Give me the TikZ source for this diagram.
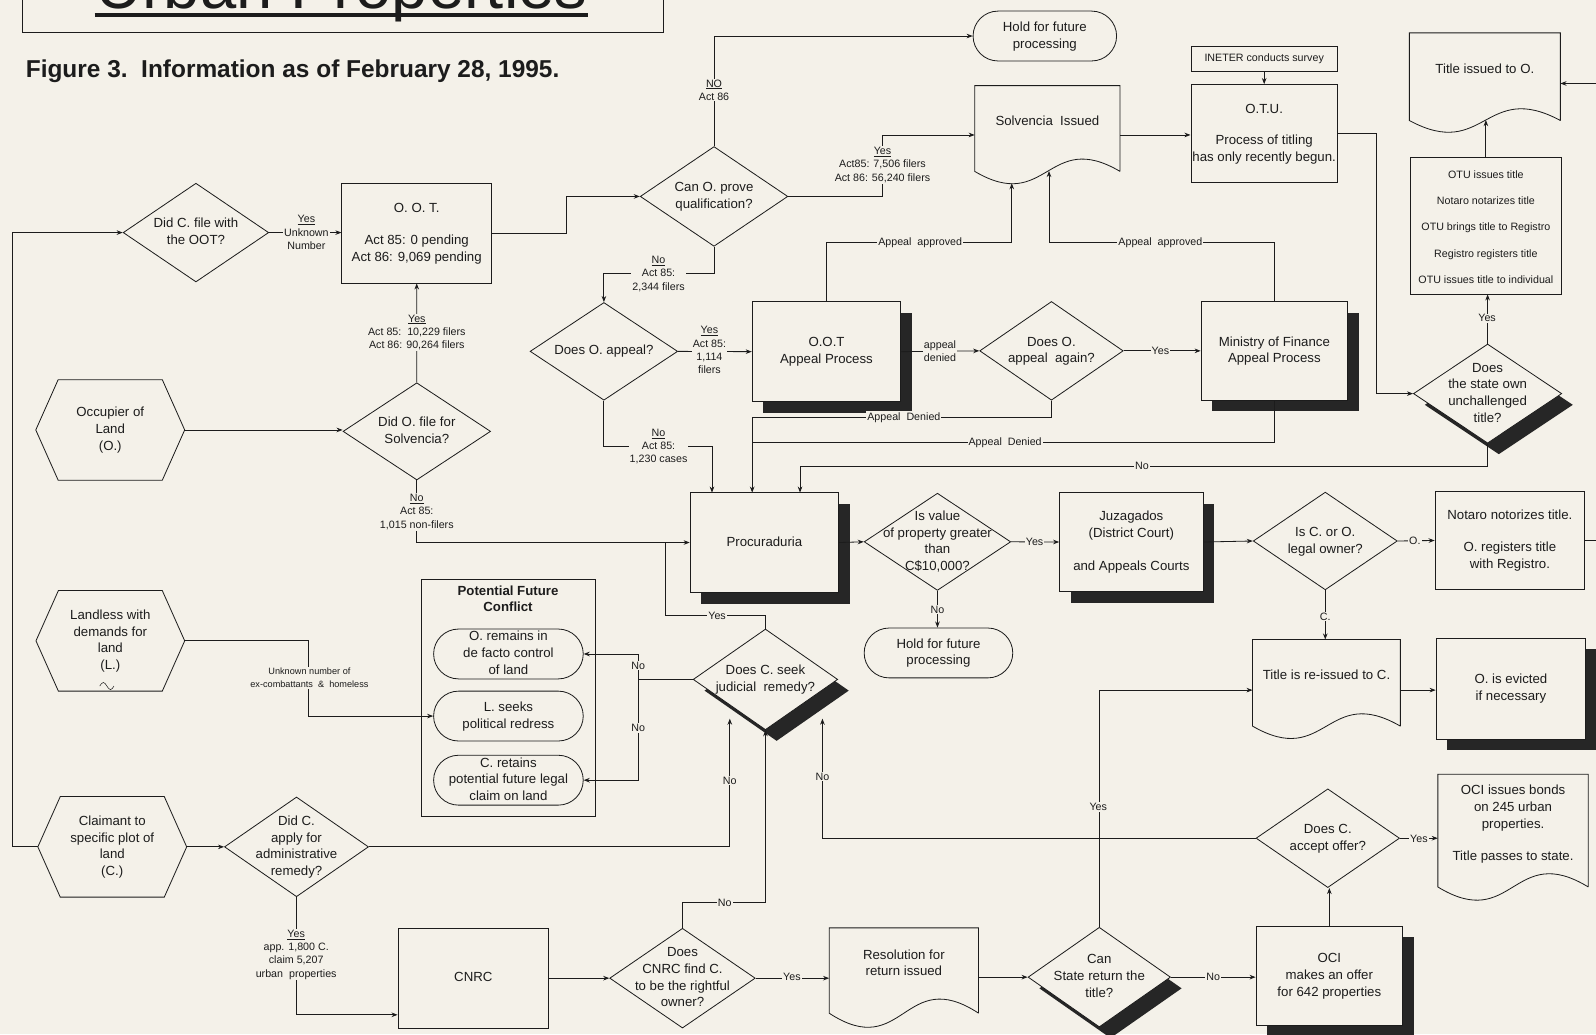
\documentclass[tikz,border=0pt]{standalone}
\usepackage{fontspec}
\setmainfont{Liberation Sans}
\usetikzlibrary{shapes.geometric}
\usetikzlibrary{shapes.misc}
\usetikzlibrary{shadows}
\usetikzlibrary{arrows.meta}

\definecolor{paper}{RGB}{244,241,233}
\definecolor{ink}{RGB}{28,28,28}

%% text of fixed size nodes: centred, takes no room
\newcommand{\ctext}[1]{\smash{\makebox[0pt]{\raisebox{-0.25em}{\begin{tabular}{@{}c@{}}#1\end{tabular}}}}}
%% outline of a hexagon round a node
\newcommand{\hexline}[1]{\draw (#1.west) -- ([xshift=22pt]#1.north west) -- ([xshift=-22pt]#1.north east) -- (#1.east) -- ([xshift=-22pt]#1.south east) -- ([xshift=22pt]#1.south west) -- cycle;}
%% outline of a document round a node, #2 = depth of the wave
\newcommand{\docline}[2]{\draw ([yshift=-13pt]#1.south east) -- (#1.north east) -- (#1.north west) -- ([yshift=-13pt]#1.south west) .. controls ([yshift=-13pt-#2]#1.south) and ([yshift=-13pt+#2]#1.south) .. ([yshift=-13pt]#1.south east);}

\tikzset{
  every node/.style={font=\fontsize{13}{16.5}\selectfont},
  sz/.style 2 args={minimum width=#1pt, minimum height=#2pt},
  flowbox/.style={draw, fill=paper, rectangle, inner sep=0pt},
  flowdia/.style={draw, fill=paper, diamond, inner sep=0pt},
  holdbox/.style={draw, fill=paper, rounded rectangle, inner sep=0pt},
  textonly/.style={inner sep=0pt},
  dropshade/.style={drop shadow={shadow xshift=11pt, shadow yshift=-11pt, fill=black!85, opacity=1}},
  lbl/.style={fill=paper, inner sep=1pt, align=center, font=\fontsize{10.5}{13}\selectfont},
  arr/.style={-{Stealth[length=6pt,width=4.5pt]}},
}

\begin{document}
\begin{tikzpicture}[x=1pt, y=-1pt, line width=0.8pt, color=ink]
  \fill[paper] (0,0) rectangle (1568,1016);
  \useasboundingbox (0,0) rectangle (1568,1016);

  %% title block, cut at the top of the page
  \node[anchor=base west, inner sep=0pt, font=\fontsize{64}{64}\selectfont] (title) at (93,8) {Urban Properties};
  \draw[line width=4.5pt] ([yshift=-6.7pt]title.base west) -- ([yshift=-6.7pt]title.base east);
  \draw (21.8,-40) rectangle (652,31.8);
  \node[anchor=base west, inner sep=0pt, font=\fontsize{24}{24}\selectfont\bfseries] (caption) at (25,76) {Figure 3.\ \ Information as of February 28, 1995.};

  %% occupier branch
  \node[flowdia, sz={143}{97}] (fileOOT) at (192.5,228.5) {\ctext{Did C. file with\\the OOT?}};
  \node[flowbox, sz={147}{98}] (oot) at (409.4,229) {\ctext{O. O. T.\\[15pt]Act 85: 0 pending\\Act 86: 9,069 pending}};
  \node[flowdia, sz={145}{98}] (prove) at (701.5,193) {\ctext{Can O. prove\\qualification?}};
  \node[holdbox, sz={141}{49}] (holdA) at (1026.5,35.4) {\ctext{Hold for future\\processing}};
  \node[textonly, sz={142}{70.5}] (solv) at (1029,119.75) {\ctext{Solvencia\ \ Issued}};
  \node[flowbox, sz={144}{24.6}, font=\fontsize{10.5}{12}\selectfont] (ineter) at (1242,58) {\ctext{INETER conducts survey}};
  \node[flowbox, sz={144}{96.5}] (otu) at (1242,131.3) {\ctext{O.T.U.\\[14.5pt]Process of titling\\has only recently begun.}};
  \node[textonly, sz={147.6}{72.3}] (issuedO) at (1458.8,68.85) {\ctext{Title issued to O.}};
  \node[flowbox, sz={147.6}{134.2}, font=\fontsize{10.5}{25.9}\selectfont] (steps) at (1459.8,221.7) {\ctext{OTU issues title\\Notaro notarizes title\\OTU brings title to Registro\\Registro registers title\\OTU issues title to individual}};
  \node[flowdia, dropshade, sz={145.7}{97.4}] (stateown) at (1461.5,386.7) {\ctext{Does\\the state own\\unchallenged\\title?}};
  \node[flowdia, sz={145}{96}] (appeal) at (593.3,345.2) {\ctext{Does O. appeal?}};
  \node[flowbox, dropshade, sz={146}{98}] (ootapp) at (812,345.5) {\ctext{O.O.T\\Appeal Process}};
  \node[flowdia, sz={141}{97}] (again) at (1033,344.7) {\ctext{Does O.\\appeal\ \ again?}};
  \node[flowbox, dropshade, sz={144}{97}] (minfin) at (1252,344.7) {\ctext{Ministry of Finance\\Appeal Process}};
  \node[textonly, sz={145.5}{98}] (occupier) at (108.3,422.4) {\ctext{Occupier of\\Land\\(O.)}};
  \node[flowdia, sz={145}{95.5}] (solvq) at (409.5,423.8) {\ctext{Did O. file for\\Solvencia?}};

  %% courts
  \node[flowbox, dropshade, sz={146}{98}] (procu) at (751,533) {\ctext{Procuraduria}};
  \node[flowdia, sz={144}{95.5}] (value) at (921,532.3) {\ctext{Is value\\of property greater\\than\\C\$10,000?}};
  \node[holdbox, sz={146}{49}] (holdB) at (922,641.5) {\ctext{Hold for future\\processing}};
  \node[flowbox, dropshade, sz={141}{97}] (juzg) at (1111.5,532.5) {\ctext{Juzagados\\(District Court)\\[16pt]and Appeals Courts}};
  \node[flowdia, sz={141.5}{96}] (owner) at (1302,531.5) {\ctext{Is C. or O.\\legal owner?}};
  \node[flowbox, sz={147}{97}] (notaro) at (1483.4,531) {\ctext{Notaro notorizes title.\\[15pt]O. registers title\\with Registro.}};
  \node[textonly, sz={144.4}{71.3}] (reissue) at (1303.2,664.35) {\ctext{Title is re-issued to C.}};
  \node[flowbox, dropshade, sz={147}{99}] (evict) at (1484.4,676.5) {\ctext{O. is evicted\\if necessary}};

  %% landless and conflict
  \node[textonly, sz={145.3}{98}] (landless) at (108.4,629.6) {\ctext{Landless with\\demands for\\land\\(L.)}};
  \node[flowbox, sz={171}{233}] (conflict) at (499.1,685.5) {};
  \node[font=\fontsize{13}{15.5}\selectfont\bfseries, align=center, inner sep=0pt] (conflictT) at (499.1,588.5) {Potential Future\\Conflict};
  \node[holdbox, sz={147}{49}] (remains) at (499.5,642.5) {\ctext{O. remains in\\de facto control\\of land}};
  \node[holdbox, sz={147}{49}] (seeks) at (499.5,703.5) {\ctext{L. seeks\\political redress}};
  \node[holdbox, sz={147}{49}] (retains) at (499.5,766.5) {\ctext{C. retains\\potential future legal\\claim on land}};
  \node[flowdia, dropshade, sz={142}{99}] (judicial) at (752,667.5) {\ctext{Does C. seek\\judicial\ \ remedy?}};

  %% claimant branch
  \node[textonly, sz={145.4}{98}] (claimant) at (110.3,832) {\ctext{Claimant to\\specific plot of\\land\\(C.)}};
  \node[flowdia, sz={141.5}{98}] (admin) at (291.3,832) {\ctext{Did C.\\apply for\\administrative\\remedy?}};
  \node[flowbox, sz={148}{98}] (cnrc) at (465,961) {\ctext{CNRC}};
  \node[flowdia, sz={143}{98}] (rightful) at (670.5,961) {\ctext{Does\\CNRC find C.\\to be the rightful\\owner?}};
  \node[textonly, sz={146}{70}] (resolution) at (888,947) {\ctext{Resolution for\\return issued}};
  \node[flowdia, dropshade, sz={140}{98}] (canreturn) at (1080,960) {\ctext{Can\\State return the\\title?}};
  \node[flowbox, dropshade, sz={144}{97}] (oci) at (1306,958.5) {\ctext{OCI\\makes an offer\\for 642 properties}};
  \node[flowdia, sz={141}{97}] (acceptq) at (1304.5,823.5) {\ctext{Does C.\\accept offer?}};
  \node[textonly, sz={147}{97}] (bonds) at (1486.5,809.5) {\ctext{OCI issues bonds\\on 245 urban\\properties.\\[15.5pt]Title passes to state.}};

  \hexline{occupier}
  \hexline{landless}
  \hexline{claimant}
  \draw[line width=0.5pt] (98,674) sin (101.5,670.5) cos (105,674) sin (108.5,677.5) cos (112,674);
  \docline{solv}{42pt}
  \docline{issuedO}{40pt}
  \docline{reissue}{42pt}
  \docline{resolution}{48pt}
  \docline{bonds}{45pt}

  %% connectors
  \draw[arr] (claimant.west) -- (12.5,832) |- (fileOOT.west);
  \draw[arr] (fileOOT.east) -- (oot.west |- fileOOT.east);
  \draw[arr] (oot.east) -- (556,229) |- (prove.west);
  \draw[arr] (prove.north) |- (holdA.west);
  \draw[arr] (prove.east) -- (867,193) |- (solv.west |- 0,132.6);
  \draw[arr] (solv.east |- 0,132.6) -- (otu.west |- 0,132.6);
  \draw[arr] (ineter.south) -- (otu.north);
  \draw[arr] (otu.east) -- (1352,131.3) |- (stateown.west);
  \draw[arr] (steps.north) -- (1459.8,118);
  \draw[arr] (stateown.north) -- (stateown.north |- steps.south);
  \draw[arr] (stateown.south) |- (786,458) -- (786,484);
  \draw[arr] (notaro.east) -- (1600,531) |- (issuedO.east |- 0,82);
  \draw[arr] (occupier.east) -- (solvq.west |- occupier.east);
  \draw[arr] (solvq.north) -- (oot.south);
  \draw[arr] (prove.south) |- (593.3,269) -- (appeal.north);
  \draw[arr] (appeal.east) -- (ootapp.west);
  \draw[arr] (appeal.south) |- (699.5,438.8) -- (699.5,484);
  \draw[arr] (ootapp.north) |- (994,238) -- (994,180);
  \draw[arr] (ootapp.east) -- (again.west);
  \draw[arr] (again.east) -- (minfin.west);
  \draw[arr] (minfin.north) |- (1030.6,238) -- (1030.6,168);
  \draw[arr] (again.south) |- (739,410) -- (739,484);
  \draw (minfin.south) |- (739,435);
  \draw[arr] (solvq.south) |- (procu.west);
  \draw (judicial.north) |- (654,605) -- (654,533);
  \draw[arr] (procu.east) -- (value.west);
  \draw[arr] (value.south) -- (value.south |- holdB.north);
  \draw[arr] (value.east) -- (juzg.west);
  \draw[arr] (juzg.east) -- (owner.west);
  \draw[arr] (owner.east) -- (notaro.west);
  \draw[arr] (owner.south) -- (owner.south |- reissue.north);
  \draw[arr] (reissue.east |- 0,678) -- (evict.west |- 0,678);
  \draw[arr] (landless.east) -- (303,629.6) |- (seeks.west);
  \draw (judicial.west) -- (627,667.5);
  \draw[arr] (627,667.5) |- (remains.east);
  \draw[arr] (627,667.5) |- (retains.east);
  \draw[arr] (claimant.east) -- (admin.west);
  \draw[arr] (admin.east) -| (717,706);
  \draw[arr] (admin.south) |- (cnrc.west |- 0,997);
  \draw[arr] (cnrc.east) -- (rightful.west);
  \draw[arr] (rightful.north) |- (judicial.south |- 0,887) -- (judicial.south);
  \draw[arr] (rightful.east) -- (resolution.west |- rightful.east);
  \draw[arr] (resolution.east |- canreturn.west) -- (canreturn.west);
  \draw[arr] (canreturn.east) -- (oci.west |- canreturn.east);
  \draw[arr] (canreturn.north) |- (reissue.west |- 0,678);
  \draw[arr] (oci.north) -- (oci.north |- acceptq.south);
  \draw[arr] (acceptq.east) -- (bonds.west |- acceptq.east);
  \draw[arr] (acceptq.west) -| (808,706);

  %% labels on the connectors
  \node[lbl] (lYesOOT) at (301,228.5) {\underline{Yes}\\Unknown\\Number};
  \node[lbl] (lNoHold) at (701.5,88.5) {\underline{NO}\\Act 86};
  \node[lbl] (lYesSolv) at (867,162) {\underline{Yes}\\Act85: 7,506 filers\\Act 86: 56,240 filers};
  \node[lbl] (lYesFiled) at (409.5,326.5) {\underline{Yes}\\Act 85:\ \ 10,229 filers\\Act 86: 90,264 filers};
  \node[lbl] (lNoFiled) at (409.5,503) {\underline{No}\\Act 85:\\1,015 non-filers};
  \node[lbl] (lNoProve) at (647,269) {\underline{No}\\Act 85:\\2,344 filers};
  \node[lbl] (lYesAppeal) at (697,344) {\underline{Yes}\\Act 85:\\1,114\\filers};
  \node[lbl] (lNoAppeal) at (647,438.8) {\underline{No}\\Act 85:\\1,230 cases};
  \node[lbl] (lApprA) at (904,238) {Appeal\ \ approved};
  \node[lbl] (lApprB) at (1140,238) {Appeal\ \ approved};
  \node[lbl] (lDenied) at (923.5,345) {appeal\\denied};
  \node[lbl] (lYesAgain) at (1140,345) {Yes};
  \node[lbl] (lDenA) at (888,410) {Appeal\ \ Denied};
  \node[lbl] (lDenB) at (987.5,435) {Appeal\ \ Denied};
  \node[lbl] (lYesState) at (1461,312.7) {Yes};
  \node[lbl] (lNoState) at (1122,458) {No};
  \node[lbl] (lNoValue) at (921,599) {No};
  \node[lbl] (lYesValue) at (1016.4,532) {Yes};
  \node[lbl] (lO) at (1390,531) {O.};
  \node[lbl] (lC) at (1302,605.8) {C.};
  \node[lbl] (lYesJud) at (704.5,605) {Yes};
  \node[lbl] (lNoA) at (627,654) {No};
  \node[lbl] (lNoB) at (627,715) {No};
  \node[lbl, font=\fontsize{9}{13}\selectfont] (lLandless) at (304,666) {Unknown number of\\ex-combattants\ \ \&\ \ homeless};
  \node[lbl] (lNoAdmin) at (717,767) {No};
  \node[lbl] (lNoAccept) at (808,763) {No};
  \node[lbl] (lNoCnrc) at (712,887) {No};
  \node[lbl] (lYesAdmin) at (291,938) {\underline{Yes}\\app. 1,800 C.\\claim 5,207\\urban\ \ properties};
  \node[lbl] (lYesCnrc) at (778,960) {Yes};
  \node[lbl] (lNoReturn) at (1192,960) {No};
  \node[lbl] (lYesReturn) at (1079,793) {Yes};
  \node[lbl] (lYesAccept) at (1394,824) {Yes};
\end{tikzpicture}
\end{document}
